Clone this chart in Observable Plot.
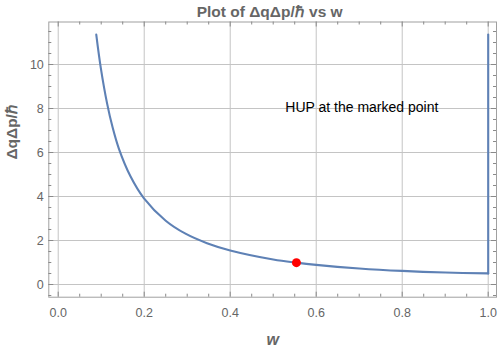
<!DOCTYPE html>
<html><head><meta charset="utf-8">
<script src="https://cdn.jsdelivr.net/npm/d3@7"></script>
<script src="https://cdn.jsdelivr.net/npm/@observablehq/plot@0.6"></script>
<style>body{margin:0;background:#fff}</style>
</head><body><div id="chart"></div>
<script>
// curve values
const wValues = [0.0885, 0.099, 0.114, 0.126, 0.141, 0.168, 0.199, 0.250, 0.296, 0.346, 0.400, 0.500, 0.554, 0.600, 0.700, 0.800, 0.900, 1.000];
const uncertainty = [11.36, 9.85, 8.20, 7.18, 6.18, 4.92, 3.93, 2.90, 2.31, 1.88, 1.55, 1.14, 0.993, 0.893, 0.73, 0.6175, 0.544, 0.505];
// vertical jump at w = 1
const jumpW = [1.0, 1.0];
const jumpValues = [0.505, 11.36];
// marked point
const markedW = [0.554];
const markedValue = [0.993];
// ticks
const xTicks = [0, 0.2, 0.4, 0.6, 0.8, 1.0];
const xMinorTicks = [0.05, 0.1, 0.15, 0.25, 0.3, 0.35, 0.45, 0.5, 0.55, 0.65, 0.7, 0.75, 0.85, 0.9, 0.95];
const yTicks = [0, 2, 4, 6, 8, 10];
const yMinorTicks = [-0.5, 0.5, 1, 1.5, 2.5, 3, 3.5, 4.5, 5, 5.5, 6.5, 7, 7.5, 8.5, 9, 9.5, 10.5, 11, 11.5];
// texts
const titleText = "Plot of ΔqΔp/ℏ vs w";
const xLabel = "w";
const yLabel = "ΔqΔp/ℏ";
const noteText = "HUP at the marked point";
const noteW = 0.706;
const noteValue = 7.86;

const width = 498, height = 350;
const mL = 48.3, mR = 2, mT = 21.5, mB = 53.3;
const innerW = width - mL - mR, innerH = height - mT - mB;

const curve = wValues.map((w, i) => ({w, v: uncertainty[i]}));
const jump = jumpW.map((w, i) => ({w, v: jumpValues[i]}));
const marked = markedW.map((w, i) => ({w, v: markedValue[i]}));

const gray = "#666";
const tickColor = "#8a8a8a";

const chart = Plot.plot({
  width, height,
  marginLeft: mL, marginRight: mR, marginTop: mT, marginBottom: mB,
  style: {fontFamily: "'Liberation Sans', Arial, sans-serif", background: "#fff"},
  x: {domain: [-0.0219, 1.0193]},
  y: {domain: [-0.577, 11.932]},
  marks: [
    Plot.gridX(xTicks, {stroke: "#c4c4c4", strokeOpacity: 1}),
    Plot.gridY(yTicks, {stroke: "#c4c4c4", strokeOpacity: 1}),
    Plot.frame({stroke: "#a0a0a0"}),
    // inward ticks bottom/top
    Plot.tickX(xTicks, {x: d => d, insetTop: innerH - 5, stroke: tickColor}),
    Plot.tickX(xMinorTicks, {x: d => d, insetTop: innerH - 3, stroke: tickColor}),
    Plot.tickX(xTicks, {x: d => d, insetBottom: innerH - 5, stroke: tickColor}),
    Plot.tickX(xMinorTicks, {x: d => d, insetBottom: innerH - 3, stroke: tickColor}),
    // inward ticks left/right
    Plot.tickY(yTicks, {y: d => d, insetRight: innerW - 5, stroke: tickColor}),
    Plot.tickY(yMinorTicks, {y: d => d, insetRight: innerW - 3, stroke: tickColor}),
    Plot.tickY(yTicks, {y: d => d, insetLeft: innerW - 5, stroke: tickColor}),
    Plot.tickY(yMinorTicks, {y: d => d, insetLeft: innerW - 3, stroke: tickColor}),
    Plot.axisX(xTicks, {anchor: "bottom", tickSize: 0, tickPadding: 10.5, tickFormat: d3.format(".1f"), label: null, fontSize: 12.5, color: gray}),
    Plot.axisY(yTicks, {anchor: "left", tickSize: 0, tickPadding: 5, label: null, fontSize: 12.5, color: gray}),
    Plot.line(curve, {x: "w", y: "v", curve: "catmull-rom", stroke: "#5e81b5", strokeWidth: 2.1}),
    Plot.line(jump, {x: "w", y: "v", stroke: "#5e81b5", strokeWidth: 2.1}),
    Plot.dot(marked, {x: "w", y: "v", r: 4.5, fill: "red", stroke: "none"}),
    Plot.text([{w: noteW, v: noteValue, t: noteText}], {x: "w", y: "v", text: "t", lineAnchor: "bottom", fontSize: 14, fill: "black"}),
    Plot.text([titleText], {text: d => d, frameAnchor: "top", dx: -3, dy: -4.8, lineAnchor: "bottom", fontWeight: "bold", fontSize: 15.5, fill: gray}),
    Plot.text([yLabel], {text: d => d, frameAnchor: "left", dx: -36.3, rotate: -90, fontWeight: "bold", fontSize: 15.5, fill: gray}),
    Plot.text([xLabel], {text: d => d, frameAnchor: "bottom", dy: 47.3, lineAnchor: "bottom", fontWeight: "bold", fontStyle: "italic", fontSize: 16, fill: gray})
  ]
});
document.getElementById("chart").appendChild(chart);
</script>
</body></html>
